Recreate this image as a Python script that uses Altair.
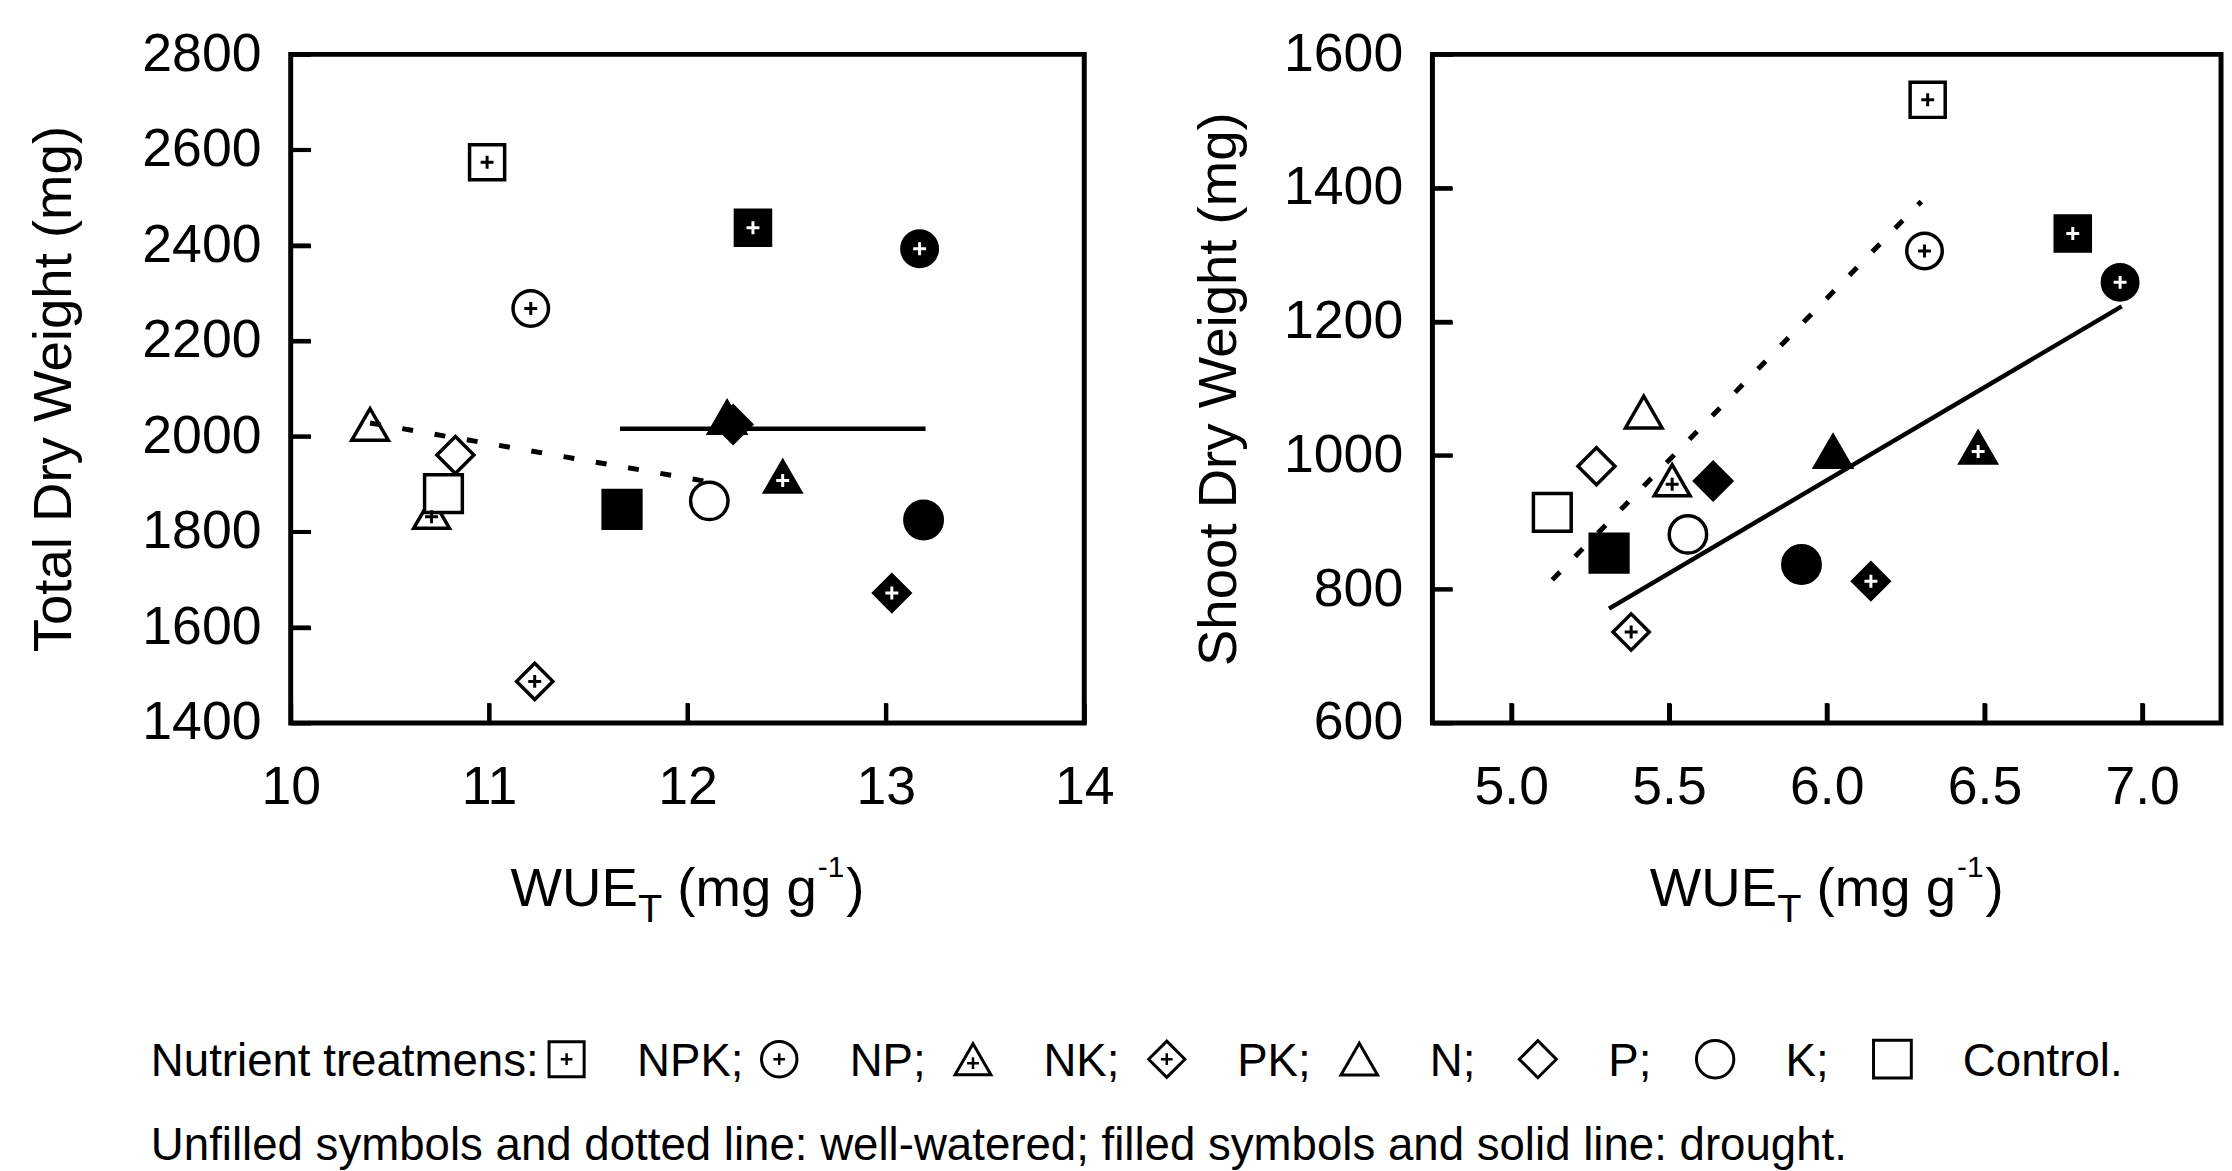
import altair as alt
import pandas as pd

FONT = "Liberation Sans"

# ---------------- data ----------------
TREATMENTS = ["NPK", "NP", "NK", "PK", "N", "P", "K", "Control"]
SHAPES = ["square", "circle", "triangle-up", "diamond", "triangle-up", "diamond", "circle", "square"]
SIZES = [1250, 1450, 1700, 2100, 1700, 2100, 1450, 1250]
LEGEND_SIZES = [900, 1100, 1400, 1800, 1400, 1800, 1100, 900]

# Left panel: Total dry weight (mg) vs WUE_T
TOTAL_WW_X = [10.99, 11.21, 10.71, 11.23, 10.40, 10.83, 12.11, 10.77]
TOTAL_WW_Y = [2574, 2268, 1840, 1487, 2025, 1961, 1865, 1880]
TOTAL_DR_X = [12.33, 13.17, 12.48, 13.03, 12.20, 12.23, 13.19, 11.67]
TOTAL_DR_Y = [2437, 2393, 1916, 1672, 2040, 2025, 1825, 1847]
TOTAL_WW_LINE_X = [10.40, 12.08]
TOTAL_WW_LINE_Y = [2028, 1907]
TOTAL_DR_LINE_X = [11.66, 13.20]
TOTAL_DR_LINE_Y = [2016, 2016]

# Right panel: Shoot dry weight (mg) vs WUE_T
SHOOT_WW_X = [6.32, 6.31, 5.51, 5.38, 5.42, 5.27, 5.56, 5.13]
SHOOT_WW_Y = [1532, 1306, 963, 736, 1065, 984, 882, 915]
SHOOT_DR_X = [6.78, 6.93, 6.48, 6.14, 6.02, 5.64, 5.92, 5.31]
SHOOT_DR_Y = [1332, 1259, 1012, 812, 1006, 962, 837, 854]
SHOOT_WW_LINE_X = [5.13, 6.30]
SHOOT_WW_LINE_Y = [814, 1380]
SHOOT_DR_LINE_X = [5.31, 6.935]
SHOOT_DR_LINE_Y = [771, 1223]

LEFT_X_LABELS = [10, 11, 12, 13, 14]
LEFT_X_TICKS = [11, 12, 13]
LEFT_Y_LABELS = [1400, 1600, 1800, 2000, 2200, 2400, 2600, 2800]
LEFT_Y_TICKS = [1600, 1800, 2000, 2200, 2400, 2600]
RIGHT_X_LABELS = [5.0, 5.5, 6.0, 6.5, 7.0]
RIGHT_X_TICKS = [5.0, 5.5, 6.0, 6.5, 7.0]
RIGHT_Y_LABELS = [600, 800, 1000, 1200, 1400, 1600]
RIGHT_Y_TICKS = [800, 1000, 1200, 1400]

LEGEND_TITLE = "Nutrient treatmens:"
LEGEND_NOTE = "Unfilled symbols and dotted line: well-watered; filled symbols and solid line: drought."

# ---------------- layout ----------------
W_LEFT, W_RIGHT, H = 800, 795, 674
TICK = 20
LABEL_SIZE = 54
TITLE_SIZE = 55
LEG_SIZE = 46
PLUS = "M-1,0H1M0,-1V1"

ARIAL = {" ": 278, "(": 333, ")": 333, "-": 333, ".": 278, ":": 278, ";": 278,
         "C": 722, "E": 667, "K": 667, "N": 722, "P": 667, "T": 611, "U": 722, "W": 944,
         "a": 556, "e": 556, "g": 556, "i": 222, "l": 222, "m": 833, "n": 556, "o": 556,
         "r": 333, "s": 500, "t": 278, "u": 556, "1": 556}


def tw(s, size):
    return sum(ARIAL.get(c, 556) for c in s) * size / 1000.0


ONE = pd.DataFrame({"k": [0]})


def wue_title(cx, base_y):
    # (text, font size, baseline shift, extra gap before)
    pieces = [("WUE", TITLE_SIZE, 0, 0), ("T", 40, 16, 0), ("(mg g", TITLE_SIZE, 0, tw(" ", TITLE_SIZE)),
              ("-1", 30, -30, 1), (")", TITLE_SIZE, 0, 2)]
    total = sum(tw(t, s) + g for t, s, _, g in pieces)
    x = cx - total / 2
    out = []
    for t, s, dy, g in pieces:
        x += g
        out.append(alt.Chart(ONE).mark_text(text=t, fontSize=s, align="left", baseline="alphabetic",
                                            font=FONT, color="black")
                   .encode(x=alt.value(x), y=alt.value(base_y + dy)))
        x += tw(t, s)
    return out


def points_df(wx, wy, dx, dy):
    rows = []
    for t, x, y in zip(TREATMENTS, wx, wy):
        rows.append({"treatment": t, "water": "ww", "x": x, "y": y})
    for t, x, y in zip(TREATMENTS, dx, dy):
        rows.append({"treatment": t, "water": "dr", "x": x, "y": y})
    return pd.DataFrame(rows)


shape_enc = alt.Shape("treatment:N", scale=alt.Scale(domain=TREATMENTS, range=SHAPES), legend=None)
size_enc = alt.Size("treatment:N", scale=alt.Scale(domain=TREATMENTS, range=SIZES), legend=None)
fill_enc = alt.Fill("water:N", scale=alt.Scale(domain=["ww", "dr"], range=["white", "black"]), legend=None)
plus_stroke = alt.Stroke("water:N", scale=alt.Scale(domain=["ww", "dr"], range=["black", "white"]), legend=None)

INWARD = {"expr": str(-TICK)}   # inward axis ticks (negative size given as an expression)


def panel(df, wwl, drl, xdom, ydom, xlabels, ylabels, xticks_v, yticks_v, xfmt, ytitle, ytitle_x, width,
          extra=None):
    xs = alt.Scale(domain=xdom, nice=False, zero=False)
    ys = alt.Scale(domain=ydom, nice=False, zero=False)
    xaxis = alt.Axis(values=xlabels, format=xfmt, title=None, ticks=True, tickSize=INWARD,
                     tickColor="black", tickWidth=4, domain=False,
                     grid=False, labelFontSize=LABEL_SIZE, labelFont=FONT, labelColor="black",
                     labelPadding=38 + TICK, labelFlush=False, labelOverlap=False)
    yaxis = alt.Axis(values=ylabels, format="d", title=ytitle, ticks=True, tickSize=INWARD,
                     tickColor="black", tickWidth=4, domain=False,
                     grid=False, labelFontSize=LABEL_SIZE, labelFont=FONT, labelColor="black",
                     labelPadding=30 + TICK, labelFlush=False, labelOverlap=False,
                     titleFontSize=TITLE_SIZE, titleFont=FONT, titleColor="black",
                     titleFontWeight="normal", titleX=ytitle_x, titleY=H / 2, titleAngle=270,
                     titleAlign="center", titleBaseline="middle")
    X = alt.X("x:Q", scale=xs, axis=xaxis)
    Y = alt.Y("y:Q", scale=ys, axis=yaxis)

    # inward tick marks also drawn as short line layers (length TICK px in data units)
    dxt = (xdom[1] - xdom[0]) * TICK / width
    dyt = (ydom[1] - ydom[0]) * TICK / H
    tick_layers = []
    for v in xticks_v:
        tick_layers.append(alt.Chart(pd.DataFrame({"x": [v, v], "y": [ydom[0], ydom[0] + dyt]}))
                           .mark_line(color="black", strokeWidth=4).encode(x=X, y=Y))
    for v in yticks_v:
        tick_layers.append(alt.Chart(pd.DataFrame({"x": [xdom[0], xdom[0] + dxt], "y": [v, v]}))
                           .mark_line(color="black", strokeWidth=4).encode(x=X, y=Y))

    base = alt.Chart(df)
    pts = base.mark_point(filled=True, opacity=1, stroke="black", strokeWidth=3.5).encode(
        x=X, y=Y, shape=shape_enc, size=size_enc, fill=fill_enc)
    plus_other = base.transform_filter(
        alt.FieldOneOfPredicate(field="treatment", oneOf=["NPK", "NP", "PK"])
    ).mark_point(shape=PLUS, size=170, filled=False, opacity=1, strokeWidth=3).encode(
        x=X, y=Y, stroke=plus_stroke)
    plus_tri = base.transform_filter(
        alt.FieldOneOfPredicate(field="treatment", oneOf=["NK"])
    ).mark_point(shape=PLUS, size=170, filled=False, opacity=1, strokeWidth=3, yOffset=4).encode(
        x=X, y=Y, stroke=plus_stroke)

    wl = alt.Chart(pd.DataFrame({"x": wwl[0], "y": wwl[1]})).mark_line(
        color="black", strokeWidth=5, strokeDash=[11, 22]).encode(x=X, y=Y)
    dl = alt.Chart(pd.DataFrame({"x": drl[0], "y": drl[1]})).mark_line(
        color="black", strokeWidth=4.5).encode(x=X, y=Y)

    layers = [pts, plus_other, plus_tri, wl, dl] + tick_layers + wue_title(width / 2, H + 185)
    if extra:
        layers += extra
    return alt.layer(*layers).properties(width=width, height=H)


def legend_layers():
    x0 = -141
    y_sym = 1013
    y_txt = 1030
    y_note = 1115
    labels = [t + (";" if t != "Control" else ".") for t in TREATMENTS]
    sym_x, lab_x = [], []
    x = x0 + tw(LEGEND_TITLE, LEG_SIZE) + 28
    for lab in labels:
        sym_x.append(x)
        lx = x + 71
        lab_x.append(lx)
        w = tw(lab, LEG_SIZE)
        x = lx + max(w + 36, 0.5 * w + 86)
    ldf = pd.DataFrame({"treatment": TREATMENTS, "water": ["ww"] * len(TREATMENTS),
                        "sx": sym_x, "lx": lab_x, "label": labels})
    lsize = alt.Size("treatment:N", scale=alt.Scale(domain=TREATMENTS, range=LEGEND_SIZES), legend=None)
    syms = alt.Chart(ldf).mark_point(filled=True, opacity=1, stroke="black", strokeWidth=3).encode(
        x=alt.X("sx:Q", scale=None), y=alt.value(y_sym), shape=shape_enc, size=lsize, fill=fill_enc)
    plus1 = alt.Chart(ldf).transform_filter(
        alt.FieldOneOfPredicate(field="treatment", oneOf=["NPK", "NP", "PK"])
    ).mark_point(shape=PLUS, size=140, filled=False, opacity=1, strokeWidth=2.5, color="black").encode(
        x=alt.X("sx:Q", scale=None), y=alt.value(y_sym))
    plus2 = alt.Chart(ldf).transform_filter(
        alt.FieldOneOfPredicate(field="treatment", oneOf=["NK"])
    ).mark_point(shape=PLUS, size=140, filled=False, opacity=1, strokeWidth=2.5, color="black").encode(
        x=alt.X("sx:Q", scale=None), y=alt.value(y_sym + 4))
    labs = alt.Chart(ldf).mark_text(align="left", baseline="alphabetic", fontSize=LEG_SIZE, font=FONT,
                                    color="black").encode(
        x=alt.X("lx:Q", scale=None), y=alt.value(y_txt), text="label:N")
    ttl = alt.Chart(ONE).mark_text(text=LEGEND_TITLE, align="left", baseline="alphabetic",
                                   fontSize=LEG_SIZE, font=FONT, color="black").encode(
        x=alt.value(x0), y=alt.value(y_txt))
    note = alt.Chart(ONE).mark_text(text=LEGEND_NOTE, align="left", baseline="alphabetic",
                                    fontSize=LEG_SIZE, font=FONT, color="black").encode(
        x=alt.value(x0), y=alt.value(y_note))
    return [syms, plus1, plus2, labs, ttl, note]


left = panel(points_df(TOTAL_WW_X, TOTAL_WW_Y, TOTAL_DR_X, TOTAL_DR_Y),
             (TOTAL_WW_LINE_X, TOTAL_WW_LINE_Y), (TOTAL_DR_LINE_X, TOTAL_DR_LINE_Y),
             [10, 14], [1400, 2800], LEFT_X_LABELS, LEFT_Y_LABELS, LEFT_X_TICKS, LEFT_Y_TICKS, "d",
             "Total Dry Weight (mg)", -239, W_LEFT, extra=legend_layers())
right = panel(points_df(SHOOT_WW_X, SHOOT_WW_Y, SHOOT_DR_X, SHOOT_DR_Y),
              (SHOOT_WW_LINE_X, SHOOT_WW_LINE_Y), (SHOOT_DR_LINE_X, SHOOT_DR_LINE_Y),
              [4.75, 7.25], [600, 1600], RIGHT_X_LABELS, RIGHT_Y_LABELS, RIGHT_X_TICKS, RIGHT_Y_TICKS, ".1f",
              "Shoot Dry Weight (mg)", -216, W_RIGHT)

chart = alt.hconcat(left, right, spacing=351, bounds="flush").properties(
    padding={"left": 16, "top": 12, "right": 0, "bottom": 0}
).configure(font=FONT, background="white").configure_view(stroke="black", strokeWidth=5)

chart.save("out.html", embed_options={"renderer": "svg", "actions": False})
